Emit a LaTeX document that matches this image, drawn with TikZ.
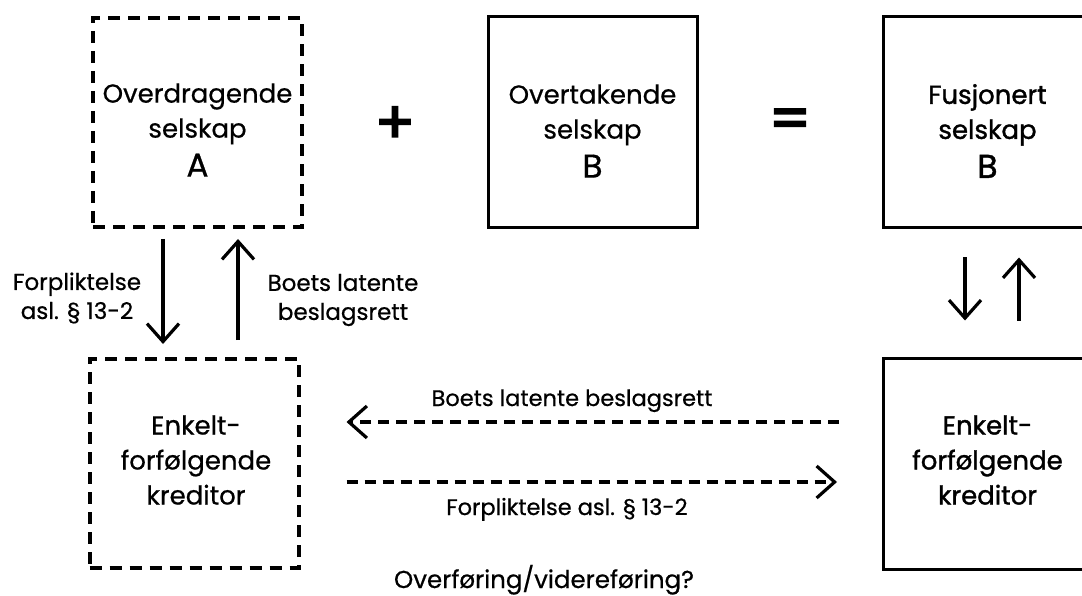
\documentclass[tikz,border=0pt]{standalone}
\usepackage{fontspec}
\setmainfont{Poppins}[FakeBold=0.6]
\newfontfamily\medfont[FakeBold=1.3]{Poppins}
\newfontfamily\symfont[FakeBold=3.5]{Poppins}
\usetikzlibrary{arrows.meta}
\begin{document}
\begin{tikzpicture}[x=1pt,y=-1pt,
  dbox/.style={draw, line width=4pt, dash pattern=on 12pt off 8pt, minimum width=209pt, minimum height=209pt, inner sep=0pt},
  sbox/.style={draw, line width=3pt, minimum width=209pt, minimum height=211pt, inner sep=0pt},
  boxtxt/.style={align=center, inner sep=0pt, font=\fontsize{26}{35}\selectfont},
  lbl/.style={align=center, inner sep=0pt, font=\fontsize{23}{29}\selectfont},
  hlbl/.style={inner sep=0pt, anchor=base, font=\fontsize{22.5}{27}\selectfont},
  arr/.style={line width=3.2pt, -{Straight Barb[length=18pt,width=32pt]}},
  darr/.style={arr, dash pattern=on 11pt off 7pt},
  op/.style={font=\symfont\fontsize{58}{58}\selectfont, inner sep=0pt}
]
\useasboundingbox (0,0) rectangle (1082,596);
\clip (0,0) rectangle (1082,596);
\fill[white] (0,0) rectangle (1082,596);

% boxes
\node[dbox] (A) at (197.5,122.5) {};
\node[sbox] (B) at (592.5,122.5) {};
\node[sbox] (F) at (987.5,122.5) {};
\node[dbox] (BL) at (194,463.5) {};
\node[sbox] (BR) at (987.5,463.5) {};

% box texts
\node[boxtxt] (tA) at (197.5,130) {Overdragende\\selskap\\[4pt]{\fontsize{33}{33}\selectfont A}};
\node[boxtxt] (tB) at (592.5,131) {Overtakende\\selskap\\[4pt]{\fontsize{33}{33}\selectfont B}};
\node[boxtxt] (tF) at (987.5,131) {\medfont Fusjonert\\\medfont selskap\\[4pt]{\medfont\fontsize{33}{33}\selectfont B}};
\node[boxtxt] (tBL) at (196,460) {Enkelt-\\forfølgende\\kreditor};
\node[boxtxt] (tBR) at (987.5,460) {\medfont Enkelt-\\\medfont forfølgende\\\medfont kreditor};

% operators
\node[op] (plus) at (395,125) {+};
\node[op] (eq) at (790,124) {=};

% left vertical arrows
\draw[arr] ([xshift=-34.5pt,yshift=-10pt]A.south) -- ([xshift=-31pt,yshift=13pt]BL.north);
\draw[arr] ([xshift=44pt,yshift=17pt]BL.north) -- ([xshift=40.5pt,yshift=-10pt]A.south);
\node[lbl] (l1) at (77,298) {Forpliktelse\\asl. § 13-2};
\node[lbl] (l2) at (343,300) {Boets latente\\beslagsrett};

% right vertical arrows
\draw[arr] ([xshift=-22.5pt,yshift=-28pt]F.south) -- ([xshift=-22.5pt,yshift=36pt]BR.north);
\draw[arr] ([xshift=31.5pt,yshift=36pt]BR.north) -- ([xshift=31.5pt,yshift=-28pt]F.south);

% horizontal dashed arrows
\draw[darr] ([xshift=-42.5pt,yshift=41.5pt]BR.west) -- ([xshift=46pt,yshift=41.5pt]BL.east);
\draw[darr] ([xshift=46pt,yshift=-18.5pt]BL.east) -- ([xshift=-44.5pt,yshift=-18.5pt]BR.west);
\node[hlbl] (l3) at (572,406) {Boets latente beslagsrett};
\node[hlbl] (l4) at (567,515) {Forpliktelse asl. § 13-2};

% bottom question
\node[font=\fontsize{24.5}{25}\selectfont, anchor=base, inner sep=0pt] (q) at (544,588) {Overføring/videreføring?};
\end{tikzpicture}
\end{document}
